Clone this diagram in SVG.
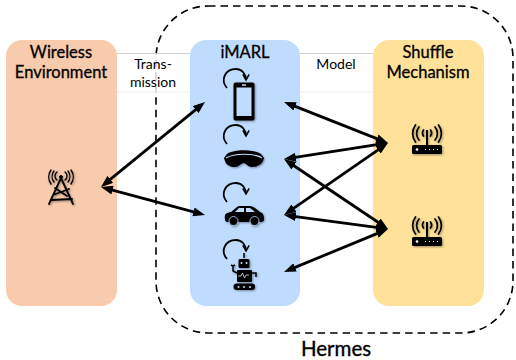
<svg xmlns="http://www.w3.org/2000/svg" width="516" height="360" viewBox="0 0 516 360">
<style>
text{font-family:Lato,"Noto Sans","Liberation Sans",sans-serif;fill:#000;text-anchor:middle}
.t{font-size:16.500px;stroke:#000;stroke-width:0.300}
.s{font-size:14px}
.c{fill:none;stroke:#000;stroke-width:2.800}
.cy{fill:none;stroke:#000;stroke-width:1.800}
.w{fill:none;stroke:#000;stroke-width:1.700;stroke-linecap:round}
.i{filter:url(#sh)}
</style>
<defs>
<filter id="sh" x="-20%" y="-20%" width="150%" height="150%"><feDropShadow dx="1" dy="1" stdDeviation="0.800" flood-color="#000" flood-opacity="0.400"/></filter>
<marker id="a" viewBox="0 0 12 9" refX="4" refY="4.500" markerWidth="12" markerHeight="9" orient="auto-start-reverse" markerUnits="userSpaceOnUse"><path d="M0 0L12 4.500L0 9Z" fill="#000"/></marker>
<marker id="r" viewBox="0 0 10 10" refX="8" refY="5" markerWidth="8" markerHeight="8" orient="auto" markerUnits="userSpaceOnUse"><path d="M1 1L8 5L1 9" fill="none" stroke="#000" stroke-width="1.900"/></marker>
<g id="router"><g class="i"><path d="M0 -10V6" stroke="#000" stroke-width="2"/><rect x="-15" y="5" width="30" height="9" rx="1.500" fill="#000"/><circle cx="-10" cy="9.500" r="1.300" fill="#fff"/><path d="M-2 9.500h1M2 9.500h1M6 9.500h1M10 9.500h1" stroke="#fff" stroke-width="1.200"/><path class="w" d="M-3.500 -10a5 5 0 0 0 0 6M3.500 -10a5 5 0 0 1 0 6M-8 -13a10 10 0 0 0 0 13M8 -13a10 10 0 0 1 0 13M-11.500 -15a14 14 0 0 0 0 17M11.500 -15a14 14 0 0 1 0 17"/></g></g>
<path id="cy" class="cy" marker-end="url(#r)" d="M-9 2C-16 -6 -11 -17 0 -17C6 -17 10 -12 10 -6"/>
</defs>
<rect width="516" height="360" fill="#fff"/>
<g id="wireless"><rect x="6" y="40" width="111" height="266" rx="16" fill="#f8cbad"/>
<text class="t" x="61" y="58">Wireless</text><text class="t" x="61" y="78">Environment</text>
<g class="i" fill="none" stroke="#000" stroke-linecap="round"><path d="M49 204L61 178L73 204M53 195L69 189M55 188L67 196M51 200L72 199" stroke-width="1.800"/><circle cx="61" cy="177" r="1.500" fill="#000"/><path stroke-width="1.400" d="M57 172a5 5 0 0 0 0 8M65 172a5 5 0 0 1 0 8M54 171a9 9 0 0 0 0 11M68 171a9 9 0 0 1 0 11M51 170a12 12 0 0 0 0 14M71 170a12 12 0 0 1 0 14"/></g></g>
<g id="imarl"><rect x="190" y="40" width="110" height="266" rx="16" fill="#bfdcff"/>
<text class="t" x="245" y="58">iMARL</text>
<g id="phone"><use href="#cy" x="236" y="86"/><g class="i"><rect x="233.500" y="82.500" width="21" height="38" rx="2" fill="#000"/><rect x="236.500" y="87.500" width="15" height="28.500" fill="#bfdcff"/><rect x="242" y="84.300" width="4" height="1.500" fill="#bfdcff"/></g></g>
<g id="visor"><use href="#cy" x="236" y="142"/><g class="i"><path d="M227 154C234 149 254 149 261 154L264 158L263 161C261 165 256 167 252 167C248 167 246 163 243.500 163C241 163 239 167 235 167C231 167 226 165 225 161L224 158Z" fill="#000"/><path d="M226 158C234 153 254 153 262 158" fill="none" stroke="#bfdcff" stroke-width="1.200"/></g></g>
<g id="car"><use href="#cy" x="236" y="200"/><g class="i"><path d="M225 219C224 214 226 213 231 212L237 207C238 206 239 206 241 206H250C252 206 253 207 255 208L260 212C263 213 264 215 264 219C264 221 263 222 261 222H227C226 222 225 221 225 219Z" fill="#000"/><path d="M239 208H244V212H235ZM246 208H250L255 212H246Z" fill="#bfdcff"/><circle cx="233.500" cy="221" r="4.500" fill="#000" stroke="#bfdcff" stroke-width="0.800"/><circle cx="254.500" cy="221" r="4.500" fill="#000" stroke="#bfdcff" stroke-width="0.800"/></g></g>
<g id="robot"><use href="#cy" x="236" y="257"/><g class="i"><path d="M244 258v-5" stroke="#000" stroke-width="1.500"/><rect x="238.500" y="259" width="11" height="9" rx="1.500" fill="#000"/><circle cx="241.500" cy="263" r="1" fill="#bfdcff"/><circle cx="246.500" cy="263" r="1" fill="#bfdcff"/><rect x="237" y="270" width="15" height="12" rx="1" fill="#000"/><path d="M238 276h3l1.500 -3l2 5l1.500 -3h3" stroke="#fff" stroke-width="0.700" fill="none"/><path d="M237 273L233 271V266M233 266l-2 -1M233 266l2 -1M252 273h4v4" fill="none" stroke="#000" stroke-width="1.500"/><rect x="233.500" y="283.500" width="21.500" height="6.500" rx="3.200" fill="#000"/><circle cx="238.500" cy="287" r="1" fill="#bfdcff"/><circle cx="244" cy="287" r="1" fill="#bfdcff"/><circle cx="250" cy="287" r="1" fill="#bfdcff"/></g></g>
</g>
<g id="shuffle"><rect x="373" y="40" width="111" height="266" rx="16" fill="#ffe199"/>
<text class="t" x="428" y="58">Shuffle</text><text class="t" x="428" y="78">Mechanism</text>
<use id="router1" href="#router" x="427" y="140"/><use id="router2" href="#router" x="427" y="232"/></g>
<g id="hermes"><rect x="156" y="6" width="357" height="327" rx="52" fill="none" stroke="#000" stroke-width="1.600" stroke-dasharray="7.500 5"/>
<text x="336" y="355.500" font-size="20.500" stroke="#000" stroke-width="0.350">Hermes</text></g>
<g id="bands">
<rect x="117" y="53" width="73" height="39" fill="#fff" fill-opacity="0.800"/>
<path d="M117 53.500H190" stroke="#d0d0d0" stroke-width="1"/><path d="M117 92H190" stroke="#eee" stroke-width="1"/>
<rect x="300" y="53" width="73" height="39" fill="#fff" fill-opacity="0.800"/>
<path d="M300 53.500H373" stroke="#d0d0d0" stroke-width="1"/><path d="M300 92H373" stroke="#eee" stroke-width="1"/>
</g>
<g id="labels"><text class="s" x="153" y="69">Trans-</text><text class="s" x="153" y="87">mission</text><text class="s" x="336" y="69">Model</text></g>
<g id="connectors">
<path class="c" marker-start="url(#a)" marker-end="url(#a)" d="M107.200 181.900L198.800 107.100"/>
<path class="c" marker-start="url(#a)" marker-end="url(#a)" d="M108.700 189.100L197.300 212.900"/>
<path class="c" marker-start="url(#a)" marker-end="url(#a)" d="M291.400 104.900L380.600 140.100"/>
<path class="c" marker-start="url(#a)" marker-end="url(#a)" d="M291.900 157.800L380.100 144.200"/>
<path class="c" marker-start="url(#a)" marker-end="url(#a)" d="M290.600 210.400L381.400 147.600"/>
<path class="c" marker-start="url(#a)" marker-end="url(#a)" d="M290.600 163.500L381.400 224.500"/>
<path class="c" marker-start="url(#a)" marker-end="url(#a)" d="M291.900 216.100L380.100 227.900"/>
<path class="c" marker-start="url(#a)" marker-end="url(#a)" d="M291.400 268.900L380.600 232.100"/>
</g>
</svg>
